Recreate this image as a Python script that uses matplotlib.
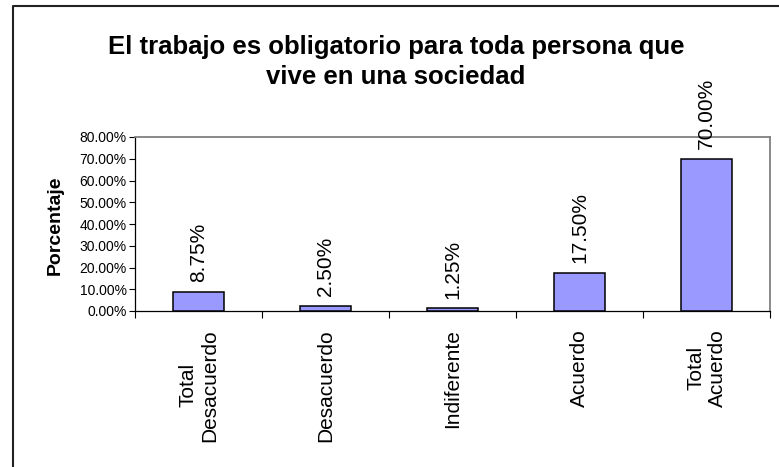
import matplotlib
matplotlib.use("Agg")
import matplotlib.pyplot as plt
from matplotlib.lines import Line2D
from matplotlib.ticker import FuncFormatter, FixedLocator

plt.rcParams['font.family'] = ['Liberation Sans', 'DejaVu Sans']

categories = ["Total\nDesacuerdo", "Desacuerdo", "Indiferente", "Acuerdo", "Total\nAcuerdo"]
values = [0.0875, 0.025, 0.0125, 0.175, 0.70]
value_labels = ["8.75%", "2.50%", "1.25%", "17.50%", "70.00%"]
yticks = [0.0, 0.1, 0.2, 0.3, 0.4, 0.5, 0.6, 0.7, 0.8]
title = "El trabajo es obligatorio para toda persona que\nvive en una sociedad"
ylabel = "Porcentaje"

W, H = 779, 467
fig = plt.figure(figsize=(W / 100, H / 100), dpi=100)
ax = fig.add_axes([135 / W, 1 - 311 / H, (770 - 135) / W, (311 - 137) / H])

x = list(range(len(categories)))
bars = ax.bar(x, values, width=0.4, color="#9999FF", edgecolor="black", linewidth=1.1, zorder=3)

for xi, v, lab in zip(x, values, value_labels):
    ax.annotate(lab, (xi, v), xytext=(0, 7), textcoords="offset points",
                rotation=90, ha="center", va="bottom", fontsize=15)

ax.set_xlim(-0.5, len(categories) - 0.5)
ax.set_ylim(0, 0.8)
ax.set_yticks(yticks)
ax.yaxis.set_major_formatter(FuncFormatter(lambda v, p: f"{v*100:.2f}%"))
ax.tick_params(axis="y", direction="out", length=4, width=0.8, labelsize=10, pad=2, colors="black")

# boundary ticks (major) and centered labels (minor)
ax.xaxis.set_major_locator(FixedLocator([i - 0.5 for i in range(len(categories) + 1)]))
ax.xaxis.set_major_formatter(FuncFormatter(lambda v, p: ""))
ax.xaxis.set_minor_locator(FixedLocator(x))
ax.set_xticklabels(categories, minor=True, rotation=90, fontsize=15, multialignment="center")
ax.tick_params(axis="x", which="major", direction="out", length=5, width=0.8)
ax.tick_params(axis="x", which="minor", length=0, pad=13)

for side in ["left", "bottom"]:
    ax.spines[side].set_color("black")
    ax.spines[side].set_linewidth(0.9)
for side in ["top", "right"]:
    ax.spines[side].set_color("#808080")
    ax.spines[side].set_linewidth(1.3)

fig.text(396 / W, 1 - 35 / H, title, ha="center", va="top", fontsize=18.5,
         fontweight="bold", linespacing=1.3)
fig.text(55 / W, 1 - 225 / H, ylabel, rotation=90, ha="center", va="center",
         fontsize=14, fontweight="bold")

# outer chart-area border (left and top visible)
bx, by = 13 / W, 1 - 6 / H
fig.add_artist(Line2D([bx, bx, 1.0], [0.0, by, by], transform=fig.transFigure,
                      color="#222222", linewidth=1.5))

fig.savefig("out.png", dpi=100)
